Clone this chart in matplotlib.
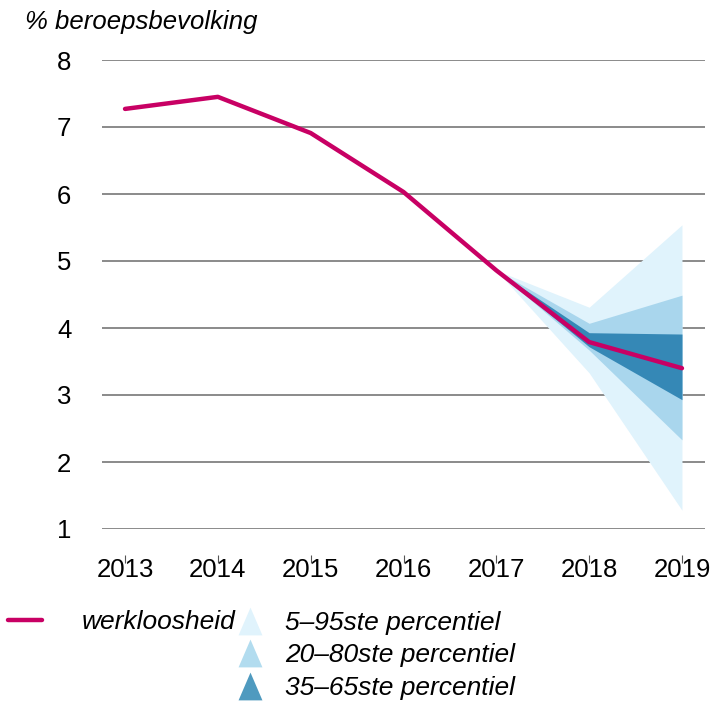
import matplotlib
matplotlib.use("Agg")
import matplotlib.pyplot as plt
from matplotlib.lines import Line2D

plt.rcParams['font.family'] = ['Liberation Sans', 'DejaVu Sans']

jaren = [2013, 2014, 2015, 2016, 2017, 2018, 2019]
werkloosheid = [7.27, 7.45, 6.91, 6.03, 4.86, 3.79, 3.40]

fan_jaren = [2017, 2018, 2019]
p5 = [4.86, 3.33, 1.28]
p95 = [4.86, 4.31, 5.54]
p20 = [4.86, 3.67, 2.33]
p80 = [4.86, 4.07, 4.49]
p35 = [4.86, 3.72, 2.93]
p65 = [4.86, 3.93, 3.91]

y_ticks = [1, 2, 3, 4, 5, 6, 7, 8]
labels_fan = ["5\u201395ste percentiel", "20\u201380ste percentiel", "35\u201365ste percentiel"]

kleur_lijn = '#c80064'
kleur_licht = '#e0f3fc'
kleur_mid = '#a9d6ed'
kleur_donker = '#3588b6'

W, H = 714, 701
fig = plt.figure(figsize=(W / 100, H / 100), dpi=100)
ax = fig.add_axes([102 / W, (H - 529) / H, 603 / W, 469 / H])

ax.fill_between(fan_jaren, p5, p95, color=kleur_licht, lw=0)
ax.fill_between(fan_jaren, p20, p80, color=kleur_mid, lw=0)
ax.fill_between(fan_jaren, p35, p65, color=kleur_donker, lw=0)
ax.plot(jaren, werkloosheid, color=kleur_lijn, lw=3.2, solid_capstyle='round', zorder=5)

ax.set_xlim(2012.752, 2019.248)
ax.set_ylim(1, 8)
ax.set_yticks(y_ticks)
ax.set_xticks(jaren)
ax.set_xticklabels([str(j) for j in jaren])
ax.grid(axis='y', color='#8a8a8a', lw=1.4)
ax.set_axisbelow(True)
for s in ['top', 'right', 'left']:
    ax.spines[s].set_visible(False)
ax.spines['bottom'].set_position(('outward', 19))
ax.spines['bottom'].set_visible(False)
ax.tick_params(axis='y', length=0, pad=22, labelsize=18.5)
ax.tick_params(axis='x', length=6, width=0.8, color='#555555', direction='out', pad=-4, labelsize=18.5)

fig.text(25 / W, 1 - 22 / H, "% beroepsbevolking", fontsize=18.5, style='italic', va='center', ha='left')

h_lijn = [Line2D([], [], color=kleur_lijn, lw=3.2, solid_capstyle='round')]
fig.legend(h_lijn, ["werkloosheid"], loc='upper left', bbox_to_anchor=(8 / W, 1 - 610 / H),
           frameon=False, prop={'style': 'italic', 'size': 19},
           handlelength=1.29, handletextpad=1.52, borderpad=0, borderaxespad=0)

driehoek = [(-0.43, -0.5), (0.43, -0.5), (0, 0.5), (-0.43, -0.5)]
h_fan = [Line2D([], [], marker=driehoek, ls='none', markersize=20, markeredgewidth=0, color=c)
         for c in [kleur_licht, '#b2dcef', '#4f9abf']]
fig.legend(h_fan, labels_fan, loc='upper left', bbox_to_anchor=(234 / W, 1 - 611 / H),
           frameon=False, prop={'style': 'italic', 'size': 19},
           handlelength=1.2, handletextpad=0.72, labelspacing=0.32, borderpad=0, borderaxespad=0)

fig.savefig("out.png", dpi=100)
